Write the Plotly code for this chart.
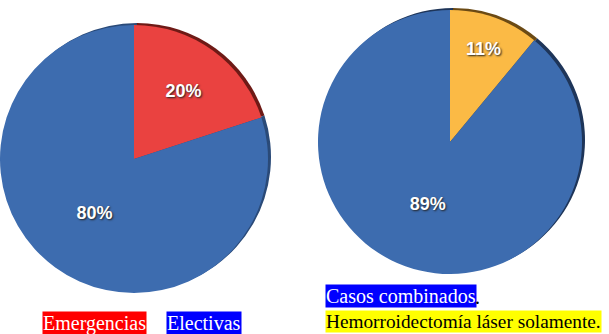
import plotly.graph_objects as go

# Data
left_labels = ["Emergencias", "Electivas"]
left_values = [20, 80]
left_colors = ["#EA4240", "#3D6CAF"]
left_edge_colors = ["#6E1A16", "#2A4A78"]

right_labels = ["Hemorroidectomía láser solamente.", "Casos combinados"]
right_values = [11, 89]
right_colors = ["#FBBA45", "#3D6CAF"]
right_edge_colors = ["#6B4A14", "#1E3559"]

W, H = 609, 334

def px(x):
    return x / W

def py(y):
    return 1 - y / H

label_font = dict(family="Arial, Liberation Sans", size=18, color="white", weight="bold",
                  shadow="1px 1px 2px #222")

def add_pie(labels, values, colors, edge_colors, x0, x1, y0, y1):
    # dark 3D rim, slightly offset behind the main pie
    fig.add_trace(go.Pie(
        labels=labels, values=values, sort=False, direction="clockwise",
        marker=dict(colors=edge_colors), textinfo="none",
        domain=dict(x=[px(x0 + 3), px(x1 + 3)], y=[py(y1 - 2), py(y0 - 2)]),
        showlegend=False, hoverinfo="skip",
    ))
    fig.add_trace(go.Pie(
        labels=labels, values=values, sort=False, direction="clockwise",
        marker=dict(colors=colors, line=dict(width=0)),
        texttemplate="%{percent:.0%}", textposition="inside", insidetextorientation="horizontal",
        textfont=label_font,
        domain=dict(x=[px(x0), px(x1)], y=[py(y1), py(y0)]),
        showlegend=False, hoverinfo="label+percent",
    ))

fig = go.Figure()
add_pie(left_labels, left_values, left_colors, left_edge_colors, 0, 268, 25, 293)
add_pie(right_labels, right_values, right_colors, right_edge_colors, 318, 582, 10, 274)

serif = "Liberation Serif, Times New Roman, serif"
anns = [
    dict(text="Emergencias", x=px(42), y=py(323), bgcolor="#FF0000", font=dict(color="white", family=serif, size=20)),
    dict(text="Electivas", x=px(166), y=py(323), bgcolor="#0000FF", font=dict(color="white", family=serif, size=20)),
    dict(text="Casos combinados", x=px(325), y=py(296), bgcolor="#0000FF", font=dict(color="white", family=serif, size=20)),
    dict(text="Hemorroidectomía láser solamente.", x=px(325), y=py(321), bgcolor="#FFFF00", font=dict(color="black", family=serif, size=19.3)),
]
for a in anns:
    fig.add_annotation(xref="paper", yref="paper", xanchor="left", yanchor="middle",
                       showarrow=False, borderpad=0, **a)
fig.add_annotation(xref="paper", yref="paper", x=px(474), y=py(297), xanchor="left", yanchor="middle",
                   showarrow=False, text=".", borderpad=0, font=dict(color="black", family=serif, size=20))

fig.update_layout(width=W, height=H, margin=dict(l=0, r=0, t=0, b=0),
                  paper_bgcolor="white", plot_bgcolor="white")
fig.write_html("out.html")
